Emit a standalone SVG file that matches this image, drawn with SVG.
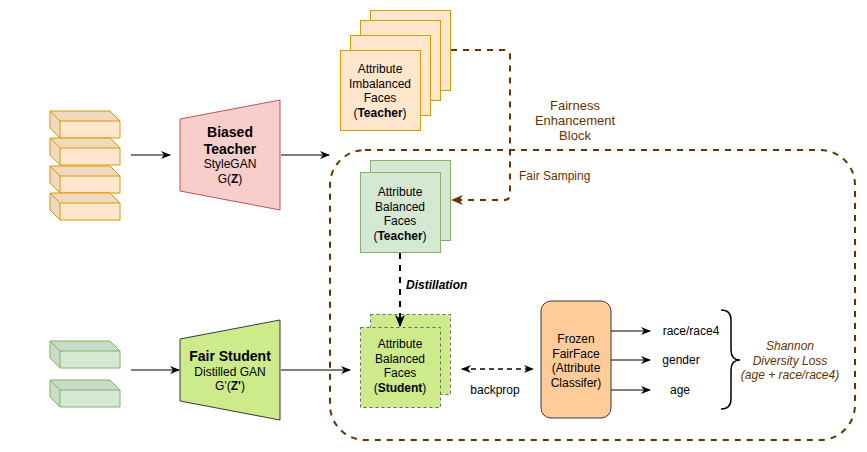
<svg xmlns="http://www.w3.org/2000/svg" width="867" height="452" viewBox="0 0 867 452">
<style>
text{font-family:"Liberation Sans",Arial,sans-serif;font-size:12px;fill:#000}
.c{text-anchor:middle}
.b{font-weight:bold}
.t14{font-size:14px}
.br{fill:#663300}
.ln{fill:none;stroke:#000;stroke-width:1}
.bd{fill:none;stroke:#663300;stroke-width:2;stroke-dasharray:6 6}
</style>
<defs>
<marker id="ah" markerWidth="10" markerHeight="8" refX="9" refY="4" orient="auto" markerUnits="userSpaceOnUse">
<path d="M0,0 L10,4 L0,8 L3,4 Z" fill="#000"/>
</marker>
<marker id="ahl" markerWidth="12" markerHeight="10" refX="11" refY="5" orient="auto" markerUnits="userSpaceOnUse">
<path d="M0,0 L12,5 L0,10 L3.5,5 Z" fill="#000"/>
</marker>
<marker id="ahs" markerWidth="10" markerHeight="8" refX="1" refY="4" orient="auto" markerUnits="userSpaceOnUse">
<path d="M10,0 L0,4 L10,8 L7,4 Z" fill="#000"/>
</marker>
<marker id="ahb" markerWidth="12" markerHeight="10" refX="11" refY="5" orient="auto" markerUnits="userSpaceOnUse">
<path d="M0,0 L12,5 L0,10 L3.5,5 Z" fill="#663300"/>
</marker>
<g id="cubeO">
<path d="M10,10 L70,10 L70,27 L10,27 Z" fill="#ffe6cc"/>
<path d="M0,0 L60,0 L70,10 L10,10 Z M0,0 L10,10 L10,27 L0,17 Z" fill="#f1d9bf"/>
<path d="M0,0 L60,0 L70,10 L70,27 L10,27 L0,17 Z M0,0 L10,10 L70,10 M10,10 L10,27" fill="none" stroke="#d79b00" stroke-width="1"/>
</g>
<g id="cubeG">
<path d="M10,10 L70,10 L70,27 L10,27 Z" fill="#d5e8d4"/>
<path d="M0,0 L60,0 L70,10 L10,10 Z M0,0 L10,10 L10,27 L0,17 Z" fill="#c8dcc7"/>
<path d="M0,0 L60,0 L70,10 L70,27 L10,27 L0,17 Z M0,0 L10,10 L70,10 M10,10 L10,27" fill="none" stroke="#82b366" stroke-width="1"/>
</g>
</defs>

<g id="fairness-block">
<rect x="330" y="150" width="525" height="290" rx="35" ry="35" class="bd"/>
<text class="c br" x="575" y="109.5" style="font-size:13px">Fairness</text>
<text class="c br" x="575" y="125" style="font-size:13px">Enhancement</text>
<text class="c br" x="575" y="140" style="font-size:13px">Block</text>
<text class="br" x="519" y="180">Fair Samping</text>
</g>

<g id="latent-teacher">
<use href="#cubeO" x="50" y="111"/>
<use href="#cubeO" x="50" y="138"/>
<use href="#cubeO" x="50" y="166"/>
<use href="#cubeO" x="50" y="193"/>
</g>

<g id="latent-student">
<use href="#cubeG" x="50" y="341"/>
<use href="#cubeG" x="50" y="380"/>
</g>

<g id="biased-teacher">
<path d="M180,119 L280,100 L280,210 L180,191 Z" fill="#f8cecc" stroke="#b85450"/>
<text class="c b t14" x="230" y="137">Biased</text>
<text class="c b t14" x="230" y="154">Teacher</text>
<text class="c" x="230" y="168">StyleGAN</text>
<text class="c" x="230" y="183">G(<tspan class="b">Z</tspan>)</text>
</g>

<g id="fair-student">
<path d="M180,339 L280,320 L280,420 L180,401 Z" fill="#cdeb8b" stroke="#36393d"/>
<text class="c b t14" x="230" y="361">Fair Student</text>
<text class="c" x="230" y="376">Distilled GAN</text>
<text class="c" x="230" y="390">G'(<tspan class="b">Z'</tspan>)</text>
</g>

<g id="imbalanced-faces">
<rect x="370.5" y="10.5" width="80" height="80" fill="#ffe6cc" stroke="#d79b00"/>
<rect x="360.5" y="20.5" width="80" height="80" fill="#ffe6cc" stroke="#d79b00"/>
<rect x="350.5" y="35.5" width="80" height="80" fill="#ffe6cc" stroke="#d79b00"/>
<rect x="340.5" y="50.5" width="80" height="80" fill="#ffe6cc" stroke="#d79b00"/>
<text class="c" x="380" y="73">Attribute</text>
<text class="c" x="380" y="87.5">Imbalanced</text>
<text class="c" x="380" y="102">Faces</text>
<text class="c" x="380" y="116.5">(<tspan class="b">Teacher</tspan>)</text>
</g>

<g id="balanced-teacher">
<rect x="370.5" y="160.5" width="80" height="80" fill="#d5e8d4" stroke="#82b366"/>
<rect x="360.5" y="172.5" width="80" height="80" fill="#d5e8d4" stroke="#82b366"/>
<text class="c" x="400" y="196">Attribute</text>
<text class="c" x="400" y="210.5">Balanced</text>
<text class="c" x="400" y="225">Faces</text>
<text class="c" x="400" y="239.5">(<tspan class="b">Teacher</tspan>)</text>
</g>

<g id="balanced-student">
<rect x="370.5" y="314.5" width="80" height="80" fill="#cdeb8b" stroke="#666" stroke-dasharray="3 3"/>
<rect x="360.5" y="327.5" width="80" height="80" fill="#cdeb8b" stroke="#666" stroke-dasharray="3 3"/>
<text class="c" x="400" y="348">Attribute</text>
<text class="c" x="400" y="362.5">Balanced</text>
<text class="c" x="400" y="377">Faces</text>
<text class="c" x="400" y="391.5">(<tspan class="b">Student</tspan>)</text>
</g>

<g id="fairface-classifier">
<rect x="541" y="301" width="70" height="117" rx="10" ry="10" fill="#ffcc99" stroke="#36393d"/>
<text class="c" x="576" y="343">Frozen</text>
<text class="c" x="576" y="357.5">FairFace</text>
<text class="c" x="576" y="372">(Attribute</text>
<text class="c" x="576" y="386.5">Classifer)</text>
</g>

<g id="attributes">
<text class="c" x="691" y="335">race/race4</text>
<text class="c" x="681" y="364">gender</text>
<text class="c" x="680" y="394">age</text>
</g>

<g id="shannon-loss">
<path d="M721,310 Q731,310 731,320 L731,350 Q731,360 740,360 Q731,360 731,370 L731,399 Q731,409 721,409" fill="none" stroke="#000" stroke-width="1.5"/>
<text class="c br" x="790" y="350" style="font-style:italic">Shannon</text>
<text class="c br" x="790" y="364.5" style="font-style:italic">Diversity Loss</text>
<text class="c br" x="790" y="379" style="font-style:italic">(age + race/race4)</text>
</g>

<g id="connectors">
<line x1="131" y1="155" x2="170" y2="155" class="ln" marker-end="url(#ah)"/>
<line x1="281" y1="155" x2="329" y2="155" class="ln" marker-end="url(#ah)"/>
<line x1="131" y1="370" x2="179" y2="370" class="ln" marker-end="url(#ah)"/>
<line x1="281" y1="370" x2="350" y2="370" class="ln" marker-end="url(#ah)"/>
<path d="M451,50 L504,50 Q510,50 510,56 L510,194 Q510,200 504,200 L452,200" class="bd" marker-end="url(#ahb)"/>
<line x1="400" y1="253" x2="400" y2="326" stroke="#000" stroke-width="2" stroke-dasharray="6 6" marker-end="url(#ahl)"/>
<line x1="462" y1="369" x2="533" y2="369" stroke="#000" stroke-width="1.5" stroke-dasharray="5 4" marker-start="url(#ahs)" marker-end="url(#ah)"/>
<line x1="611" y1="331" x2="650" y2="331" class="ln" marker-end="url(#ah)"/>
<line x1="611" y1="360" x2="650" y2="360" class="ln" marker-end="url(#ah)"/>
<line x1="611" y1="390" x2="650" y2="390" class="ln" marker-end="url(#ah)"/>
<text class="b" x="406" y="289" style="font-style:italic">Distillation</text>
<text class="c" x="495" y="394">backprop</text>
</g>
</svg>
